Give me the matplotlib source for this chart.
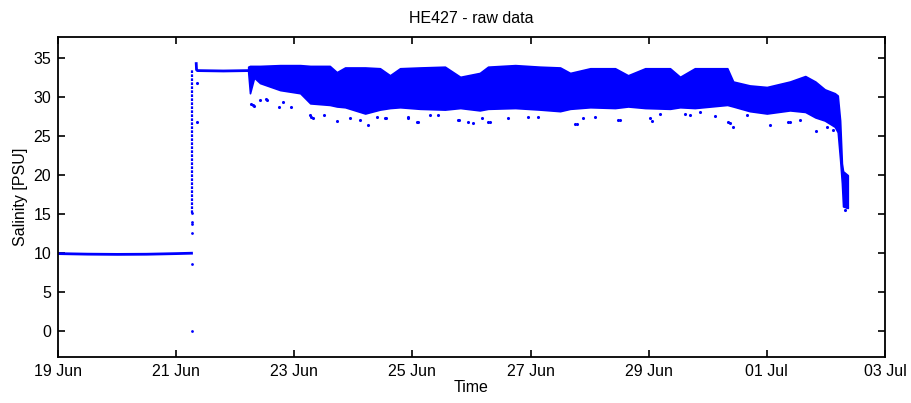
import numpy as np
import matplotlib
matplotlib.use("Agg")
import matplotlib.pyplot as plt
import matplotlib.dates as mdates
from datetime import datetime, timedelta

plt.rcParams['font.family'] = ['Liberation Sans', 'DejaVu Sans']

# time in days after 19 Jun 00:00
start = datetime(2014, 6, 19)

# harbour period, before the pump was switched on
harbour_day = [0.0, 0.5, 1.0, 1.5, 2.0, 2.26]
harbour_sal = [9.95, 9.88, 9.85, 9.87, 9.95, 10.0]

# vertical column of points when the system came online
jump_day = [2.26, 2.26, 2.26, 2.26, 2.26, 2.26]
jump_sal = [0.0, 8.6, 12.6, 13.7, 14.0, 15.1]
column_day = 2.26
column_lo = 15.1
column_hi = 33.5

# flat segment before the survey starts
flat_day = [2.34, 2.345, 2.36, 2.8, 3.22]
flat_sal = [34.3, 33.5, 33.4, 33.35, 33.4]
stray_day = [2.35, 2.35]
stray_sal = [31.8, 26.8]

# dense band: upper and lower envelope
band_day = [3.22, 3.25, 3.32, 3.42, 3.76, 4.10, 4.27, 4.60, 4.72, 4.86,
            5.20, 5.45, 5.62, 5.79, 6.13, 6.55, 6.81, 7.14, 7.28, 7.74,
            8.16, 8.50, 8.67, 9.01, 9.43, 9.65, 9.94, 10.36, 10.53, 10.78,
            11.33, 11.43, 11.71, 12.00, 12.39, 12.65, 12.82, 12.98, 13.15, 13.20,
            13.24, 13.27, 13.29, 13.37]
band_hi = [33.9, 34.0, 34.0, 34.0, 34.1, 34.1, 34.0, 34.0, 33.2, 33.8,
           33.8, 33.7, 32.8, 33.7, 33.8, 33.9, 32.6, 33.1, 33.9, 34.1,
           33.9, 33.8, 33.1, 33.7, 33.7, 32.8, 33.7, 33.7, 32.6, 33.7,
           33.7, 32.0, 31.5, 31.3, 32.0, 32.7, 32.0, 31.0, 30.5, 30.2,
           27.0, 21.5, 20.5, 20.0]
band_lo = [33.2, 30.5, 32.5, 31.8, 30.9, 30.5, 29.2, 29.0, 28.8, 28.7,
           27.9, 28.4, 28.6, 28.7, 28.5, 28.4, 28.6, 28.3, 28.5, 28.6,
           28.4, 28.2, 28.5, 28.7, 28.6, 28.8, 28.6, 28.5, 28.7, 28.6,
           29.0, 28.8, 28.2, 27.9, 28.3, 28.1, 27.4, 27.0, 26.2, 25.5,
           22.0, 19.0, 16.0, 15.8]

# isolated points below the band
out_day = [3.26, 3.30, 3.32, 3.42, 3.52, 3.53, 3.74, 3.81, 3.95, 4.27,
           4.29, 4.32, 4.50, 4.72, 4.94, 5.11, 5.25, 5.40, 5.54, 5.56,
           5.92, 5.93, 6.07, 6.09, 6.30, 6.43, 6.77, 6.78, 6.94, 7.03,
           7.17, 7.28, 7.31, 7.62, 7.96, 8.13, 8.75, 8.78, 8.89, 9.09,
           9.48, 9.51, 10.02, 10.05, 10.19, 10.61, 10.70, 10.87, 11.12, 11.35,
           11.37, 11.43, 11.66, 12.05, 12.36, 12.39, 12.56, 12.84, 13.01, 13.12,
           13.33, 13.35]
out_sal = [29.1, 29.0, 28.8, 29.6, 29.7, 29.6, 28.7, 29.4, 28.7, 27.7,
           27.5, 27.3, 27.7, 27.0, 27.3, 27.1, 26.4, 27.5, 27.3, 27.3,
           27.4, 27.3, 26.8, 26.8, 27.7, 27.7, 27.1, 27.1, 26.8, 26.7,
           27.3, 26.8, 26.8, 27.3, 27.5, 27.5, 26.6, 26.5, 27.3, 27.5,
           27.1, 27.1, 27.3, 27.0, 27.9, 27.9, 27.7, 28.1, 27.6, 26.8,
           26.7, 26.2, 27.7, 26.4, 26.8, 26.8, 27.1, 25.6, 26.2, 25.8,
           15.6, 15.9]


def to_dates(days):
    return [start + timedelta(days=d) for d in days]


blue = (0, 0, 1)
fig = plt.figure(figsize=(9.12, 4.03), dpi=100)
ax = fig.add_axes([0.0636, 0.1141, 0.9068, 0.794])

ax.plot(to_dates(harbour_day), harbour_sal, color=blue, lw=2.0)
ax.scatter(to_dates(jump_day), jump_sal, s=4, color=blue, lw=0)
ax.vlines(start + timedelta(days=column_day), column_lo, column_hi,
          color=blue, lw=1.6, linestyles=(0, (1.2, 0.6)))
ax.plot(to_dates(flat_day), flat_sal, color=blue, lw=2.0)
ax.scatter(to_dates(stray_day), stray_sal, s=5, color=blue, lw=0)
ax.fill_between(to_dates(band_day), band_lo, band_hi, color=blue, lw=1.2,
                edgecolor=blue)
ax.scatter(to_dates(out_day), out_sal, s=5, color=blue, lw=0)

ax.set_xlim(start, start + timedelta(days=14))
ax.set_ylim(-3.3, 37.7)
ax.xaxis.set_major_locator(mdates.DayLocator(interval=2))
ax.xaxis.set_major_formatter(mdates.DateFormatter('%d %b'))
ax.set_yticks([0, 5, 10, 15, 20, 25, 30, 35])

ax.tick_params(direction='in', length=5, width=1.2, top=True, right=True,
               labelsize=11.5, pad=5)
for sp in ax.spines.values():
    sp.set_linewidth(1.3)

ax.set_title('HE427 - raw data', fontsize=11.5, pad=10)
ax.set_xlabel('Time', fontsize=11.5, labelpad=1)
ax.set_ylabel('Salinity [PSU]', fontsize=11.5, labelpad=4)

fig.savefig('out.png', dpi=100)
